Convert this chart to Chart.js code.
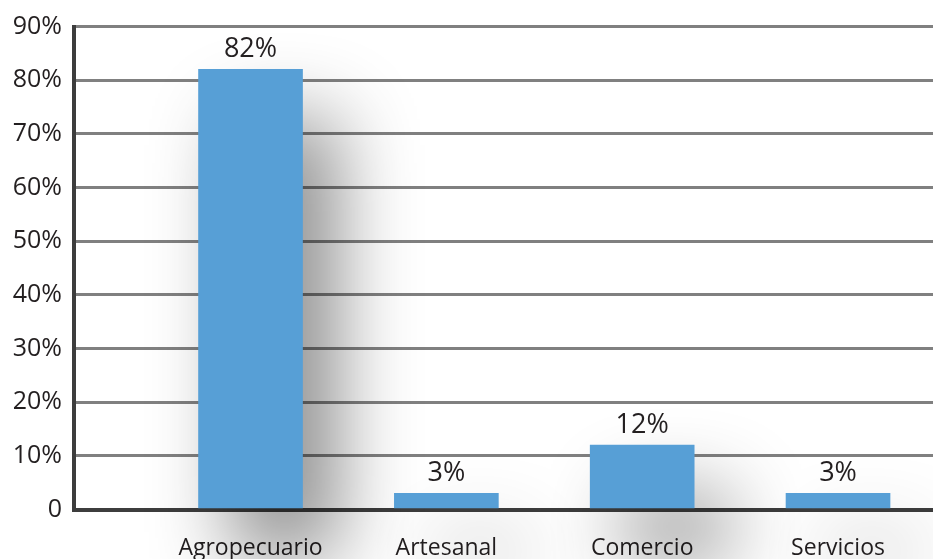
<!DOCTYPE html>
<html>
<head>
<meta charset="utf-8">
<script src="https://cdn.jsdelivr.net/npm/chart.js@4"></script>
<style>
  body { margin: 0; background: #fff; }
  #chart { display: block; }
</style>
</head>
<body>
<canvas id="chart" width="933" height="559"></canvas>
<script>
const categories = ["Agropecuario", "Artesanal", "Comercio", "Servicios"];
const percentages = [82, 3, 12, 3];
const yMax = 90;
const yStep = 10;

const textColor = "#231f20";
const barColor = "#579fd6";
const fontFamily = "'Open Sans', 'DejaVu Sans', sans-serif";

// soft drop shadow behind the bars, and value labels on top
const barExtras = {
  id: "barExtras",
  beforeDatasetsDraw(chart) {
    const ctx = chart.ctx;
    ctx.save();
    ctx.shadowColor = "rgba(0, 0, 0, 0.45)";
    ctx.shadowBlur = 80;
    ctx.shadowOffsetX = 34;
    ctx.shadowOffsetY = 50;
  },
  afterDatasetsDraw(chart) {
    const ctx = chart.ctx;
    ctx.restore();
    ctx.save();
    ctx.fillStyle = textColor;
    ctx.font = "27px " + fontFamily;
    ctx.textAlign = "center";
    ctx.textBaseline = "alphabetic";
    chart.getDatasetMeta(0).data.forEach((bar, i) => {
      ctx.fillText(percentages[i] + "%", bar.x, bar.y - 12);
    });
    ctx.restore();
  }
};

new Chart(document.getElementById("chart"), {
  type: "bar",
  data: {
    datasets: [{
      data: categories.map((c, i) => ({ x: i, y: percentages[i] })),
      backgroundColor: barColor,
      barThickness: 104,
      clip: false
    }]
  },
  options: {
    responsive: false,
    animation: false,
    devicePixelRatio: 1,
    layout: { padding: { top: 26.5, left: 0, right: 0, bottom: 0 } },
    plugins: {
      legend: { display: false },
      tooltip: { enabled: false }
    },
    scales: {
      x: {
        type: "linear",
        min: -0.904,
        max: 3.485,
        offset: false,
        z: 1,
        grid: { display: false, drawTicks: false },
        border: { color: "#3d3d3d", width: 4 },
        afterBuildTicks: scale => {
          scale.ticks = categories.map((c, i) => ({ value: i }));
        },
        afterFit: scale => { scale.height = 49.5; },
        ticks: {
          autoSkip: false,
          maxRotation: 0,
          padding: 25,
          color: textColor,
          font: { family: fontFamily, size: 23 },
          callback: v => categories[v] ?? ""
        }
      },
      y: {
        min: 0,
        max: yMax,
        grid: { color: "#808080", lineWidth: 3, drawTicks: false },
        border: { color: "#3d3d3d", width: 4 },
        afterFit: scale => { scale.width = 73.5; },
        ticks: {
          stepSize: yStep,
          padding: 11.5,
          color: textColor,
          font: { family: fontFamily, size: 25 },
          callback: v => v === 0 ? "0" : v + "%"
        }
      }
    }
  },
  plugins: [barExtras]
});
</script>
</body>
</html>
